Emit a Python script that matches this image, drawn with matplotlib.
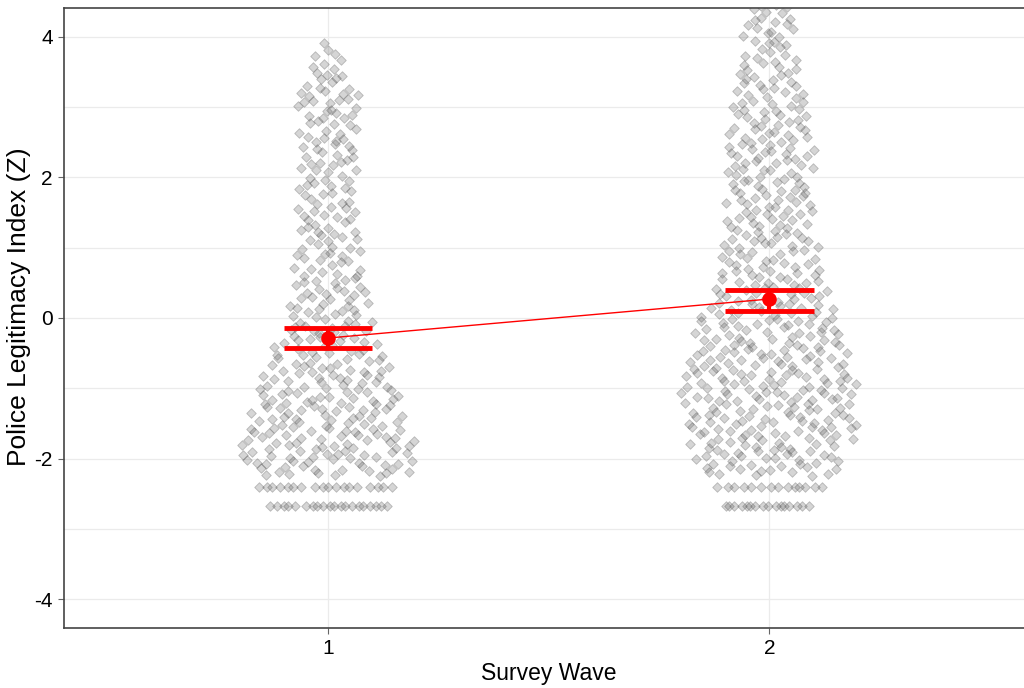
import numpy as np
import matplotlib
matplotlib.use("Agg")
import matplotlib.pyplot as plt

# ---------------- data ----------------
waves = [1, 2]
# continuous part: counts of respondents in 0.25-wide bins of the index
bin_centers_w1 = [-2.125, -1.875, -1.625, -1.375, -1.125, -0.875, -0.625, -0.375,
                  -0.125, 0.125, 0.375, 0.625, 0.875, 1.125, 1.375, 1.625,
                  1.875, 2.125, 2.375, 2.625, 2.875, 3.125, 3.375, 3.625, 3.875]
counts_w1 = [26, 27, 26, 25, 23, 21, 19, 17,
             15, 14, 13, 12, 11, 11, 10, 10,
             10, 10, 10, 10, 10, 11, 8, 6, 4]
bin_centers_w2 = [-2.125, -1.875, -1.625, -1.375, -1.125, -0.875, -0.625, -0.375,
                  -0.125, 0.125, 0.375, 0.625, 0.875, 1.125, 1.375, 1.625,
                  1.875, 2.125, 2.375, 2.625, 2.875, 3.125, 3.375, 3.625, 3.875,
                  4.125, 4.375]
counts_w2 = [22, 25, 27, 27, 28, 27, 26, 25,
             23, 21, 19, 17, 16, 16, 15, 15,
             15, 15, 15, 14, 13, 12, 11, 10, 9,
             9, 8]
# discrete floor values with many respondents
floor_values = [-2.40, -2.67]
floor_counts_w1 = [18, 20]
floor_counts_w2 = [14, 16]

# means and 95% confidence intervals per wave
means = [-0.285, 0.27]
ci_low = [-0.43, 0.10]
ci_high = [-0.14, 0.40]

# ---------------- layout helpers ----------------
BINW = 0.25
PX = 1 / 438.0                      # one pixel in x data units
max_halfwidth = {1: 88 * PX, 2: 90 * PX}
floor_halfwidths = {1: [0.165, 0.137], 2: [0.13, 0.10]}
P = 1.1
GOLD = 0.6180339887


def halton(i, base):
    f, r = 1.0, 0.0
    while i > 0:
        f /= base
        r += f * (i % base)
        i //= base
    return r


def sina_points(xc, centers, counts, fvals, fcounts, fhw, wmax, start):
    centers = np.asarray(centers, float)
    counts = np.asarray(counts, float)
    edges = np.concatenate([[centers[0] - BINW / 2], centers + BINW / 2])
    cum = np.concatenate([[0], np.cumsum(counts)]) / counts.sum()
    prof = wmax * (counts / counts.max()) ** P
    n_tot = int(counts.sum())
    xs, ys = [], []
    for i in range(n_tot):
        v = halton(start + i, 3)
        u = halton(start + i, 2)
        y = np.interp(v, cum, edges)
        hw = np.interp(y, centers, prof)
        xs.append(xc + (2 * u - 1) * hw)
        ys.append(y)
    for j, (fv, n, hw) in enumerate(zip(fvals, fcounts, fhw)):
        for i in range(n):
            u = (0.5 + GOLD * i + 0.29 * j + 0.11 * xc) % 1.0
            xs.append(xc + (2 * u - 1) * hw)
            ys.append(fv)
    return np.array(xs), np.array(ys)


# ---------------- figure ----------------
plt.rcParams['font.family'] = ['Liberation Sans', 'DejaVu Sans']
fig = plt.figure(figsize=(10.24, 6.88), dpi=100)
ax = fig.add_axes([64 / 1024, 60 / 688, 1 - 64 / 1024 + 0.01, 620 / 688])

x1, y1 = sina_points(waves[0], bin_centers_w1, counts_w1, floor_values,
                     floor_counts_w1, floor_halfwidths[1], max_halfwidth[1], 17)
x2, y2 = sina_points(waves[1], bin_centers_w2, counts_w2, floor_values,
                     floor_counts_w2, floor_halfwidths[2], max_halfwidth[2], 211)
for xs, ys in [(x1, y1), (x2, y2)]:
    ax.scatter(xs, ys, marker='D', s=24, facecolor=(0.4, 0.4, 0.4, 0.27),
               edgecolor=(0.25, 0.25, 0.25, 0.3), linewidth=0.6, zorder=3)

# mean line + error bars
ax.plot(waves, means, color='red', lw=1.0, zorder=5)
ax.vlines(waves, ci_low, ci_high, color='red', lw=3, zorder=5)
ax.hlines(ci_low, np.array(waves) - 0.1, np.array(waves) + 0.1, color='red', lw=3.5, zorder=5)
ax.hlines(ci_high, np.array(waves) - 0.1, np.array(waves) + 0.1, color='red', lw=3.5, zorder=5)
ax.scatter(waves, means, s=110, color='red', zorder=6, linewidth=0)

ax.set_xlim(0.402, 2.60)
ax.set_ylim(-4.41, 4.41)
ax.set_xticks(waves)
ax.set_xticklabels(['1', '2'])
ax.set_yticks([-4, -2, 0, 2, 4])
ax.set_yticklabels(['-4', '-2', '0', '2', '4'])
ax.set_yticks([-3, -1, 1, 3], minor=True)
ax.grid(True, which='major', color='#ebebeb', lw=0.9, zorder=0)
ax.grid(True, which='minor', axis='y', color='#ebebeb', lw=0.9, zorder=0)
ax.set_axisbelow(True)
ax.tick_params(axis='both', which='major', length=4, width=0.8, color='#666666',
               labelsize=15, labelcolor='black', pad=4)
ax.tick_params(axis='y', which='minor', length=0)
for side in ['left', 'bottom', 'top']:
    ax.spines[side].set_color('#444444')
    ax.spines[side].set_linewidth(1.2)
ax.spines['right'].set_visible(False)

ax.set_xlabel('Survey Wave', fontsize=16.5, labelpad=3)
ax.set_ylabel('Police Legitimacy Index (Z)', fontsize=19)
ax.yaxis.set_label_coords(-0.0335, 0.519)

fig.savefig('out.png', dpi=100)
